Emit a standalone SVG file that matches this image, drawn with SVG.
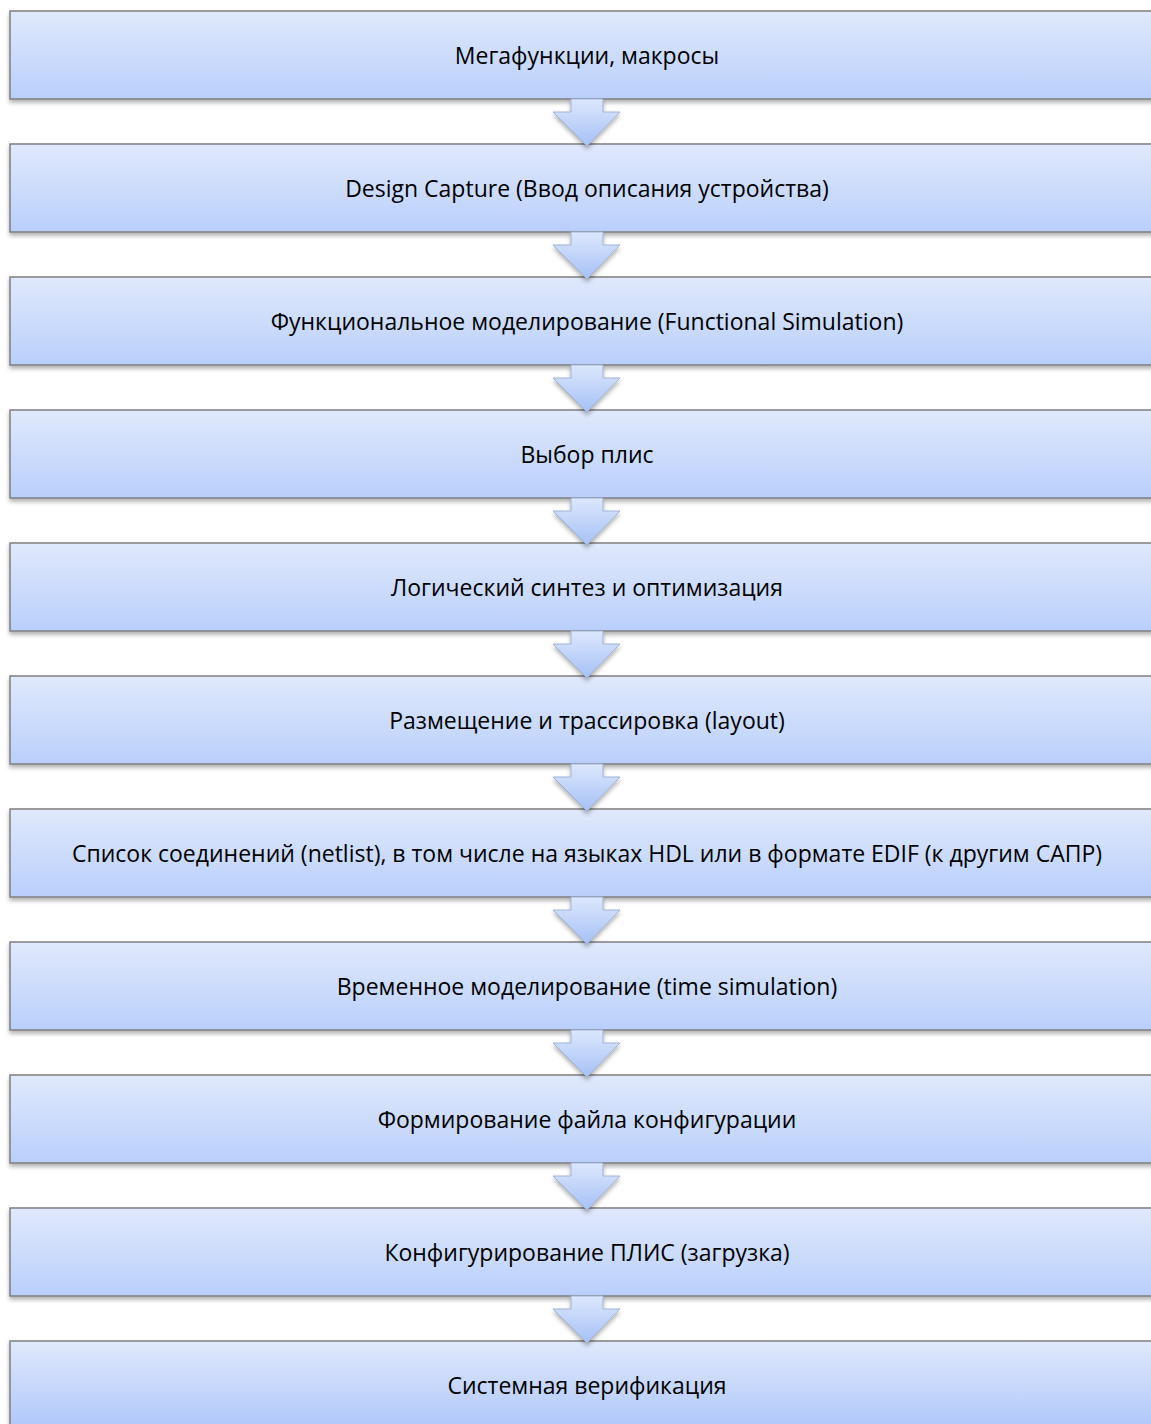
<svg xmlns="http://www.w3.org/2000/svg" width="1151" height="1424" viewBox="0 0 1151 1424">
<defs>
<linearGradient id="boxGrad" x1="0" y1="0" x2="0" y2="1">
<stop offset="0" stop-color="#e0e9fc"/>
<stop offset="1" stop-color="#b9cffb"/>
</linearGradient>
<linearGradient id="lastGrad" x1="0" y1="0" x2="0" y2="1">
<stop offset="0" stop-color="#e0e9fc"/>
<stop offset="1" stop-color="#9dbaf9"/>
</linearGradient>
<linearGradient id="arrowGrad" x1="0" y1="0" x2="0" y2="1">
<stop offset="0" stop-color="#dce7fc"/>
<stop offset="1" stop-color="#a6c1f6"/>
</linearGradient>
<filter id="shadow" x="-5%" y="-20%" width="110%" height="150%">
<feDropShadow dx="0" dy="3" stdDeviation="2" flood-color="#000" flood-opacity="0.3"/>
</filter>
</defs>
<style>
.box{fill:url(#boxGrad);stroke:#7f7f7f;stroke-width:1.5;filter:url(#shadow)}
.last{fill:url(#lastGrad)}
.arrow{fill:url(#arrowGrad);stroke:#9fb2d4;stroke-width:1;filter:url(#shadow)}
text{font-family:"Open Sans","Liberation Sans",sans-serif;font-size:23px;fill:#000;text-anchor:middle}
</style>
<rect width="1151" height="1424" fill="#fff"/>
<g id="node1"><rect class="box" x="10" y="11" width="1160" height="88"/><text x="587" y="64">Мегафункции, макросы</text></g>
<g id="node2"><rect class="box" x="10" y="144" width="1160" height="88"/><text x="587" y="197">Design Capture (Ввод описания устройства)</text></g>
<g id="node3"><rect class="box" x="10" y="277" width="1160" height="88"/><text x="587" y="330">Функциональное моделирование (Functional Simulation)</text></g>
<g id="node4"><rect class="box" x="10" y="410" width="1160" height="88"/><text x="587" y="463">Выбор плис</text></g>
<g id="node5"><rect class="box" x="10" y="543" width="1160" height="88"/><text x="587" y="596">Логический синтез и оптимизация</text></g>
<g id="node6"><rect class="box" x="10" y="676" width="1160" height="88"/><text x="587" y="729">Размещение и трассировка (layout)</text></g>
<g id="node7"><rect class="box" x="10" y="809" width="1160" height="88"/><text x="587" y="862">Список соединений (netlist), в том числе на языках HDL или в формате EDIF (к другим САПР)</text></g>
<g id="node8"><rect class="box" x="10" y="942" width="1160" height="88"/><text x="587" y="995">Временное моделирование (time simulation)</text></g>
<g id="node9"><rect class="box" x="10" y="1075" width="1160" height="88"/><text x="587" y="1128">Формирование файла конфигурации</text></g>
<g id="node10"><rect class="box" x="10" y="1208" width="1160" height="88"/><text x="587" y="1261">Конфигурирование ПЛИС (загрузка)</text></g>
<g id="node11"><rect class="box last" x="10" y="1341" width="1160" height="120"/><text x="587" y="1394">Системная верификация</text></g>
<g id="connectors">
<polygon class="arrow" points="571,99 603,99 603,112 620,112 587,146 553,112 571,112"/>
<polygon class="arrow" points="571,232 603,232 603,245 620,245 587,279 553,245 571,245"/>
<polygon class="arrow" points="571,365 603,365 603,378 620,378 587,412 553,378 571,378"/>
<polygon class="arrow" points="571,498 603,498 603,511 620,511 587,545 553,511 571,511"/>
<polygon class="arrow" points="571,631 603,631 603,644 620,644 587,678 553,644 571,644"/>
<polygon class="arrow" points="571,764 603,764 603,777 620,777 587,811 553,777 571,777"/>
<polygon class="arrow" points="571,897 603,897 603,910 620,910 587,944 553,910 571,910"/>
<polygon class="arrow" points="571,1030 603,1030 603,1043 620,1043 587,1077 553,1043 571,1043"/>
<polygon class="arrow" points="571,1163 603,1163 603,1176 620,1176 587,1210 553,1176 571,1176"/>
<polygon class="arrow" points="571,1296 603,1296 603,1309 620,1309 587,1343 553,1309 571,1309"/>
</g>
</svg>
